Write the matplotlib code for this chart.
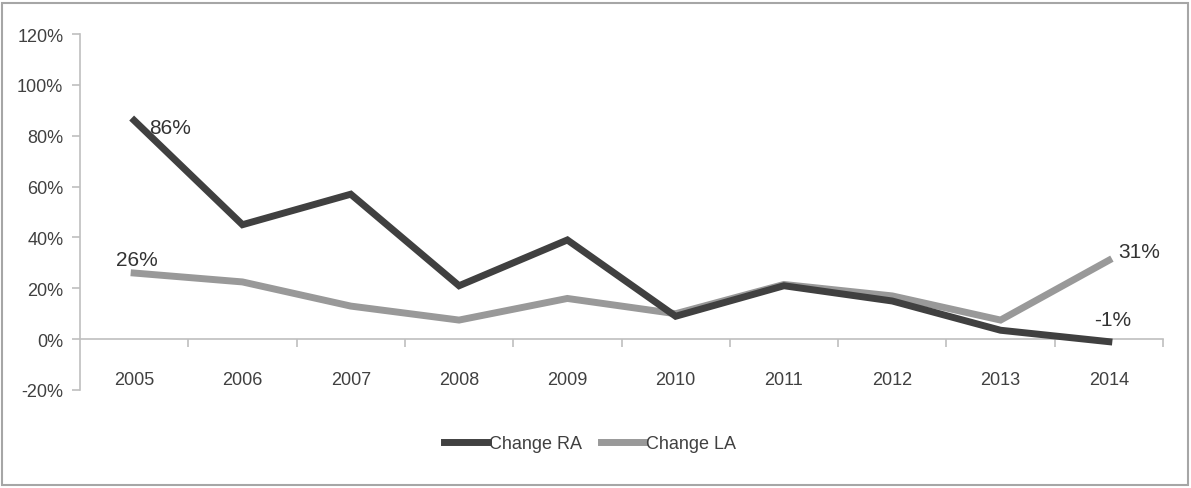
import matplotlib.pyplot as plt
from matplotlib.patches import Rectangle
from matplotlib.lines import Line2D

plt.rcParams['font.family'] = ['Liberation Sans Narrow', 'Liberation Sans', 'DejaVu Sans']

years = ["2005", "2006", "2007", "2008", "2009", "2010", "2011", "2012", "2013", "2014"]
change_ra = [86, 45, 57, 21, 39, 9, 21, 15, 3.5, -1]
change_la = [26, 22.5, 13, 7.5, 16, 10, 21.5, 17, 7.5, 31]

ra_color = "#404040"
la_color = "#999999"

fig = plt.figure(figsize=(11.91, 4.89), dpi=100)
ax = fig.add_axes([80 / 1191, 1 - 391 / 489, (1163 - 80) / 1191, (391 - 35) / 489])

x = list(range(len(years)))
ax.plot(x, change_ra, color=ra_color, lw=5, solid_joinstyle="miter", label="Change RA", zorder=3)
ax.plot(x, change_la, color=la_color, lw=5, solid_joinstyle="miter", label="Change LA", zorder=2)

ax.set_xlim(-0.5, len(years) - 0.5)
ax.set_ylim(-20, 120)
ax.set_yticks(range(-20, 121, 20))
ax.set_yticklabels([f"{v}%" for v in range(-20, 121, 20)], fontsize=13, color="#404040")

for s in ["top", "right"]:
    ax.spines[s].set_visible(False)
ax.spines["left"].set_color("#bfbfbf")
ax.spines["left"].set_linewidth(1.2)
ax.spines["bottom"].set_position(("data", 0))
ax.spines["bottom"].set_color("#bfbfbf")
ax.spines["bottom"].set_linewidth(1.2)

# ticks between categories, labels centred under each year
ax.set_xticks([i + 0.5 for i in range(len(years))])
ax.set_xticklabels([])
ax.set_xticks(x, minor=True)
ax.set_xticklabels(years, minor=True, fontsize=13, color="#404040")
ax.tick_params(axis="x", which="major", direction="out", length=6, color="#bfbfbf", width=1.2)
ax.tick_params(axis="x", which="minor", length=0, pad=23)
ax.tick_params(axis="y", direction="out", length=6, color="#bfbfbf", width=1.2, pad=6)

ax.annotate("86%", (0, change_ra[0]), xytext=(11, -5), textcoords="offset points",
            ha="left", va="center", fontsize=15, color="#333333")
ax.annotate("26%", (0, change_la[0]), xytext=(2, 10), textcoords="offset points",
            ha="center", va="center", fontsize=15, color="#333333")
ax.annotate("31%", (9, change_la[9]), xytext=(22, 6), textcoords="offset points",
            ha="center", va="center", fontsize=15, color="#333333")
ax.annotate("-1%", (9, change_ra[9]), xytext=(3, 16), textcoords="offset points",
            ha="center", va="center", fontsize=15, color="#333333")

handles = [Line2D([], [], color=ra_color, lw=5), Line2D([], [], color=la_color, lw=5)]
fig.legend(handles, ["Change RA", "Change LA"], loc="center", bbox_to_anchor=(590 / 1191, 1 - 445 / 489),
           ncol=2, frameon=False, fontsize=13, handlelength=2.4, handletextpad=0.1, columnspacing=1.0,
           labelcolor="#404040")

fig.patches.append(Rectangle((2 / 1191, 3 / 489), 1186 / 1191, 482 / 489, transform=fig.transFigure,
                             fill=False, edgecolor="#a6a6a6", lw=1.5))

fig.savefig("out.png", dpi=100)
